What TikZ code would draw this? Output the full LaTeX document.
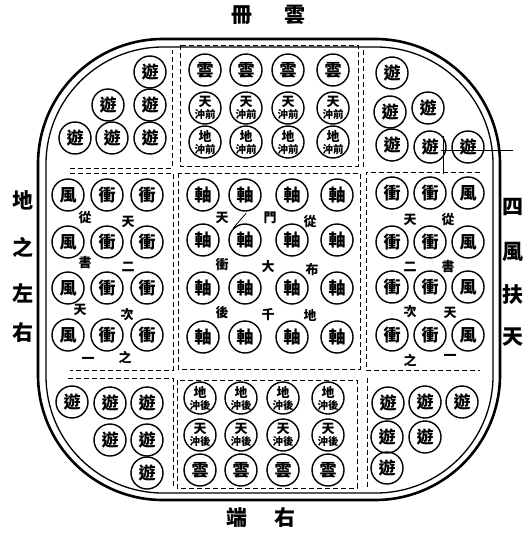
\documentclass[tikz,border=0pt]{standalone}
\usepackage{fontspec}
\newfontfamily\cjk{Noto Sans CJK TC}
\usepackage{tikz}
\usetikzlibrary{positioning}

\newcommand\headchar[1]{{\fontsize{13}{13}\selectfont #1}}

\begin{document}
\begin{tikzpicture}[x=1pt,y=-1pt,
  piece/.style={circle,draw,line width=1.4pt,minimum size=32pt,inner sep=0pt,font=\cjk\bfseries\fontsize{17}{17}\selectfont},
  duo/.style={piece,align=center,font=\cjk\bfseries\fontsize{10.5}{12}\selectfont},
  tag/.style={inner sep=0pt,font=\cjk\bfseries\fontsize{13}{13}\selectfont},
  side/.style={inner sep=0pt,font=\cjk\bfseries\fontsize{21}{21}\selectfont},
  zone/.style={line width=0.9pt,dash pattern=on 5pt off 3pt}]
\useasboundingbox (0,0) rectangle (527,535);
% ---- rounded outer wall ----
\draw[line width=2.6pt,rounded corners=125pt] (38,39) rectangle (500,500);
\draw[line width=1.3pt,rounded corners=117pt] (46,47) rectangle (493,493);
% ---- zones ----
\draw[zone] (70,168) -- (172,168) -- (172,50);
\draw[zone] (180,45) rectangle (358,166);
\draw[zone] (363,50) -- (363,168);
\draw[zone] (70,173) -- (173,173) -- (173,370) -- (70,370);
\draw[zone] (178,173) rectangle (360,369);
\draw[zone] (480,172) -- (366,172) -- (366,370) -- (480,370);
\draw[zone] (68,378) -- (173,378) -- (173,488);
\draw[zone] (177,380) rectangle (357,488);
\draw[zone] (367,378) -- (367,487);
% ---- outer labels ----
\node[side] (n1) at (242,15) {冊};
\node[side] (n2) at (295,15) {雲};
\node[side] (s1) at (237,518) {端};
\node[side] (s2) at (285,518) {右};
\foreach \c/\y [count=\i] in {地/200,之/247,左/293,右/333} \node[side] (w\i) at (23,\y) {\c};
\foreach \c/\y [count=\i] in {四/207,風/252,扶/295,天/337} \node[side] (e\i) at (513,\y) {\c};
% ---- corner groups ----
\foreach \p/\x/\y in {a/150/72,b/108/105,c/150/105,d/75/138,e/112/138,f/150/138} \node[piece] (tl\p) at (\x,\y) {遊};
\foreach \p/\x/\y in {a/392/73,b/390/112,c/428/108,d/392/145,e/430/147,f/468/147} \node[piece] (tr\p) at (\x,\y) {遊};
\foreach \p/\x/\y in {a/72/402,b/110/403,c/147/403,d/110/440,e/147/440,f/147/473} \node[piece] (bl\p) at (\x,\y) {遊};
\foreach \p/\x/\y in {a/388/403,b/425/402,c/462/402,d/387/437,e/425/437,f/387/468} \node[piece] (br\p) at (\x,\y) {遊};
\coordinate (mk) at (443,150);
\draw[thin] (mk) ++(-2,0) -- ++(72,0);
\draw[thin] (mk) ++(0,-14) -- ++(0,38);
% ---- front and rear ----
\foreach \x [count=\i] in {205,246,288,333} {
  \node[piece] (fy\i) at (\x,70) {雲};
  \node[duo] (ft\i) at (\x,108) {\headchar{天}\\沖前};
  \node[duo] (fd\i) at (\x,142) {\headchar{地}\\沖前};
  \node[duo] (rd\i) at (\x-5,398) {\headchar{地}\\沖後};
  \node[duo] (rt\i) at (\x-5,435) {\headchar{天}\\沖後};
  \node[piece] (ry\i) at (\x-5,470) {雲};
}
% ---- left and right wings ----
\foreach \y [count=\j] in {195,242,288,335} {
  \node[piece] (lf\j) at (68,\y) {風};
  \node[piece] (lc\j) at (107,\y) {衝};
  \node[piece] (ld\j) at (147,\y) {衝};
}
\foreach \y [count=\j] in {193,242,287,335} {
  \node[piece] (ra\j) at (392,\y) {衝};
  \node[piece] (rb\j) at (430,\y) {衝};
  \node[piece] (rf\j) at (468,\y) {風};
}
\foreach \c/\x/\y [count=\i] in {從/85/218,天/128/222,書/85/263,二/128/267,天/80/310,次/127/315,一/88/360,之/125/357} \node[tag] (lt\i) at (\x,\y) {\c};
\foreach \c/\x/\y [count=\i] in {天/410/220,從/448/220,二/410/267,書/448/267,次/410/312,天/450/313,之/410/360,一/450/357} \node[tag] (rtg\i) at (\x,\y) {\c};
% ---- centre ----
\foreach \y [count=\j] in {195,240,288,337}
  \foreach \x [count=\i] in {203,245,292,337}
    \node[piece] (c\j\i) at (\x,\y) {軸};
\foreach \c/\x/\y [count=\i] in {天/222/218,門/270/218,從/310/222,衝/222/265,大/268/267,布/312/270,後/222/313,千/268/315,地/310/315} \node[tag] (ct\i) at (\x,\y) {\c};
\draw[line width=0.8pt] (c22.north west) -- ++(13,-15);
\end{tikzpicture}
\end{document}
